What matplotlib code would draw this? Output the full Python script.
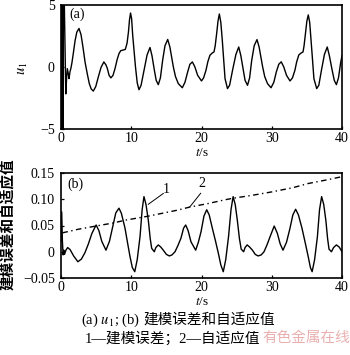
import matplotlib
matplotlib.use('Agg')
import matplotlib.pyplot as plt

plt.rcParams['font.family'] = ['Liberation Serif', 'Noto Sans CJK SC']
plt.rcParams['mathtext.fontset'] = 'stix'

# ---------------- data ----------------
t_u = [0.00, 0.07, 0.14, 0.21, 0.28, 0.35, 0.42, 0.68, 0.80, 0.90, 1.05, 1.14, 1.28, 1.40,
       1.55, 1.75, 2.00, 2.25, 2.56, 2.85, 3.15, 3.42, 3.75, 4.03, 4.30, 4.60, 4.95, 5.31,
       5.70, 6.10, 6.40, 6.60, 6.85, 7.10, 7.40, 7.69, 8.00, 8.26, 8.50, 8.80, 9.15, 9.40,
       9.60, 9.75, 9.90, 10.05, 10.20, 10.39, 10.60, 10.85, 11.10, 11.40, 11.86, 12.25, 12.67,
       12.95, 13.29, 13.55, 13.85, 14.15, 14.47, 14.80, 15.19, 15.50, 15.75, 15.99, 16.30,
       16.70, 17.27, 17.65, 18.03, 18.35, 18.70, 19.05, 19.45, 20.00, 20.30, 20.64, 20.90,
       21.20, 21.50, 21.78, 21.95, 22.16, 22.35, 22.54, 22.75, 22.96, 23.15, 23.35, 23.70,
       24.00, 24.45, 24.90, 25.30, 25.60, 25.95, 26.20, 26.55, 26.85, 27.15, 27.50, 27.90,
       28.20, 28.45, 28.70, 29.00, 29.40, 29.90, 30.30, 30.65, 31.00, 31.35, 31.70, 32.10,
       32.60, 32.95, 33.30, 33.55, 33.85, 34.15, 34.45, 34.60, 34.80, 35.00, 35.20, 35.40,
       35.60, 35.80, 36.00, 36.40, 36.70, 37.10, 37.50, 37.90, 38.20, 38.60, 38.90, 39.20,
       39.50, 39.80, 40.00]
u1 = [0.0, 7.0, -7.0, 7.0, -7.0, 7.0, 7.0, -2.2, -0.9, -0.15, -0.6, -0.96, -0.4, -0.15,
      0.3, 1.07, 2.1, 2.8, 3.1, 2.6, 1.5, 0.39, -0.6, -1.37, -1.8, -1.97, -1.6, -0.83,
      -0.05, 0.39, 0.15, -0.15, -0.7, -0.9, -0.7, -0.15, 0.6, 1.07, 1.3, 1.35, 1.4, 1.9,
      2.8, 3.8, 4.35, 3.9, 2.6, 1.34, 0.0, -1.3, -1.86, -1.5, -0.15, 0.95, 1.56,
      0.9, -0.28, -1.1, -1.45, -0.9, 0.53, 1.7, 2.21, 1.6, 0.8, -0.01, -0.8,
      -1.37, -1.7, -1.25, -0.42, 0.2, 0.39, 0.0, -0.69, -1.15, -0.9, -0.28, 0.4,
      0.93, 1.1, 1.2, 1.7, 2.7, 3.7, 4.27, 3.6, 2.15, 0.6, -0.96, -1.77,
      -1.5, -0.2, 1.0, 1.6, 0.9, -0.28, -1.1, -1.5, -0.9, 0.53, 1.7, 2.2,
      1.6, 0.8, 0.0, -0.8, -1.37, -1.7, -1.25, -0.42, 0.2, 0.4, 0.0, -0.69,
      -1.15, -0.9, -0.28, 0.4, 0.95, 1.1, 1.2, 1.7, 2.7, 3.7, 4.2, 3.6,
      2.15, 0.6, -0.96, -1.77, -1.5, -0.2, 1.0, 1.6, 0.9, -0.28, -1.1, -1.45,
      -0.9, 0.3, 0.9]

t_err = [0.0, 0.1, 0.2, 0.3, 0.4, 0.5, 0.7, 0.95, 1.3, 1.8, 2.4, 2.9, 3.4, 3.9, 4.4, 5.0,
         5.4, 5.8, 6.4, 6.9, 7.4, 7.8, 8.25, 8.6, 9.11, 9.5, 9.82, 10.15, 10.5, 10.85, 11.25,
         11.55, 11.81, 12.1, 12.43, 12.7, 12.91, 13.28, 13.5, 13.85, 14.2, 14.56, 15.0, 15.42,
         15.8, 16.23, 16.65, 17.08, 17.45, 17.75, 18.1, 18.5, 19.17, 19.55, 19.93, 20.35,
         20.74, 21.1, 21.54, 22.0, 22.4, 22.75, 23.1, 23.45, 23.85, 24.2, 24.5, 24.8, 25.1,
         25.4, 25.65, 26.0, 26.2, 26.5, 26.85, 27.25, 27.65, 28.05, 28.5, 28.9, 29.35, 29.8,
         30.35, 30.8, 31.2, 31.6, 32.1, 32.6, 33.0, 33.4, 33.8, 34.3, 34.8, 35.2, 35.5, 35.75,
         36.1, 36.5, 36.8, 37.1, 37.4, 37.7, 37.95, 38.15, 38.5, 38.8, 39.2, 39.6, 40.0]
err = [0.02, 0.076, 0.02, -0.006, 0.003, -0.005, 0.003, 0.008, 0.004, -0.008, -0.019, -0.014,
       -0.002, 0.015, 0.035, 0.051, 0.04, 0.02, 0.003, 0.02, 0.05, 0.074, 0.083, 0.073, 0.045,
       0.015, -0.009, -0.03, -0.038, -0.015, 0.029, 0.08, 0.105, 0.09, 0.06, 0.025, 0.0065,
       0.0, 0.008, 0.013, 0.009, 0.003, -0.005, -0.008, -0.006, 0.0, 0.012, 0.026, 0.045,
       0.051, 0.04, 0.019, 0.003, 0.018, 0.038, 0.068, 0.08, 0.07, 0.045, 0.02, -0.003,
       -0.025, -0.038, -0.015, 0.029, 0.08, 0.105, 0.09, 0.06, 0.025, 0.005, 0.0, 0.008,
       0.013, 0.009, 0.003, -0.005, -0.008, -0.006, 0.0, 0.014, 0.03, 0.049, 0.035, 0.015,
       0.003, 0.018, 0.045, 0.07, 0.081, 0.07, 0.045, 0.015, -0.01, -0.03, -0.038, -0.015,
       0.029, 0.08, 0.105, 0.09, 0.06, 0.025, 0.005, 0.0, 0.008, 0.013, 0.009, 0.0]

t_adapt = [0.2, 2.5, 5.0, 7.5, 9.1, 12.5, 16.5, 18.3, 21.0, 23.35, 24.5, 27.0, 30.0, 33.0,
           35.2, 37.5, 40.0]
adapt = [0.036, 0.043, 0.049, 0.055, 0.060, 0.068, 0.079, 0.085, 0.092, 0.099, 0.102, 0.107,
         0.114, 0.122, 0.130, 0.136, 0.143]

xticks = [0, 10, 20, 30, 40]
xtick_labels = ['0', '10', '20', '30', '40']
a_yticks = [-5, 0, 5]
a_ytick_labels = ['\u22125', '0', '5']
b_yticks = [-0.05, 0.0, 0.05, 0.10, 0.15]
b_ytick_labels = ['\u22120.05', '0', '0.05', '0.10', '0.15']

label1_text = '1'
label2_text = '2'
leader1 = ([12.43, 14.56], [0.0904, 0.111])
leader2 = ([18.36, 19.88], [0.0858, 0.1113])
label1_pos = (14.99, 0.1182)
label2_pos = (20.1, 0.1304)

# ---------------- figure ----------------
W, H = 350, 355
fig = plt.figure(figsize=(W / 100, H / 100), dpi=100)
fig.patch.set_facecolor('white')


def box(l, t, r, b):
    return [l / W, 1 - b / H, (r - l) / W, (b - t) / H]


ax1 = fig.add_axes(box(61, 5, 342, 128.5))
ax2 = fig.add_axes(box(61, 173, 342, 278))

for ax in (ax1, ax2):
    ax.set_xlim(0, 40)
    ax.set_xticks(xticks)
    ax.set_xticklabels(xtick_labels)
    for s in ax.spines.values():
        s.set_linewidth(1.2)
        s.set_color('black')
    ax.tick_params(direction='in', length=2.5, width=0.9, labelsize=10)
    ax.tick_params(axis='x', pad=2.5)
    ax.tick_params(axis='y', pad=4.5)

ax1.plot(t_u, u1, color='black', lw=1.0)
ax1.set_ylim(-5, 5)
ax1.set_yticks(a_yticks)
ax1.set_yticklabels(a_ytick_labels)
ax1.text(0.056, 0.925, '(a)', transform=ax1.transAxes, ha='center', va='center', fontsize=10)

ax2.plot(t_err, err, color='black', lw=1.0)
ax2.plot(t_adapt, adapt, color='black', lw=1.0, linestyle=(0, (4, 2.5, 1, 2.5)))
ax2.set_ylim(-0.05, 0.15)
ax2.set_yticks(b_yticks)
ax2.set_yticklabels(b_ytick_labels)
ax2.text(0.0516, 0.893, '(b)', transform=ax2.transAxes, ha='center', va='center', fontsize=10)
ax2.plot(*leader1, color='black', lw=0.7)
ax2.plot(*leader2, color='black', lw=0.7)
ax2.text(*label1_pos, label1_text, ha='center', va='center', fontsize=10)
ax2.text(*label2_pos, label2_text, ha='center', va='center', fontsize=10)

# axis labels
fig.text(202 / W, 1 - 146.5 / H, '$t$/s', ha='center', va='top', fontsize=9.5)
fig.text(202 / W, 1 - 296 / H, '$t$/s', ha='center', va='top', fontsize=9.5)
fig.text(23 / W, 1 - 68 / H, '$u_1$', ha='center', va='center', rotation=90, fontsize=10.5)
fig.text(8 / W, 1 - 224 / H, '建模误差和自适应值', ha='center', va='center', rotation=90,
         fontsize=10.5, fontweight='bold', family=['Noto Sans CJK SC'])

# caption
fig.text(140 / W, 1 - 320 / H, '(a) $u_1$; (b)', ha='right', va='center', fontsize=10.5)
fig.text(143 / W, 1 - 320 / H, '建模误差和自适应值', ha='left', va='center', fontsize=10.5,
         family=['Noto Sans CJK SC'])
fig.text(172 / W, 1 - 338 / H, '1—建模误差；2—自适应值', ha='center', va='center', fontsize=10.5,
         family=['Liberation Serif', 'Noto Sans CJK SC'])
fig.text(262 / W, 1 - 338 / H, '有色金属在线', ha='left', va='center', fontsize=10.5,
         color='#eab0b0', family=['Noto Sans CJK SC'])

fig.savefig('out.png', dpi=100, facecolor='white')
